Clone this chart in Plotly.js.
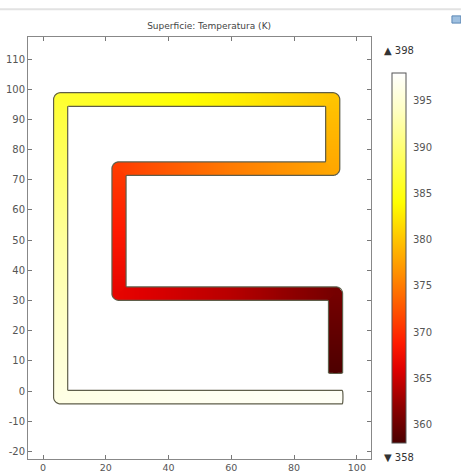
<!DOCTYPE html>
<html>
<head>
<meta charset="utf-8">
<script src="https://cdn.plot.ly/plotly-3.0.1.min.js"></script>
<style>html,body{margin:0;padding:0;background:#fff;}#chart{width:461px;height:475px;}</style>
</head>
<body>
<div id="chart"></div>
<script>
// Channel centerline (x, y in axis units) and temperature (K) read at each vertex
const pathX = [95.3, 50, 5.6, 5.6, 5.6, 30, 60, 92.3, 92.3, 60, 24.2, 24.2, 60, 93.2, 93.2];
const pathY = [-2.0, -2.0, -2.0, 50, 96.6, 96.6, 96.6, 96.6, 73.7, 73.7, 73.7, 32.3, 32.3, 32.3, 6.0];
const pathT = [397.4, 397.0, 396.2, 392.0, 386.5, 385.0, 383.0, 380.0, 378.0, 375.0, 371.0, 366.5, 364.0, 360.5, 358.2];
const channelHalfWidth = 2.25;

const zMin = 358, zMax = 398;
const cbTickVals = [360, 365, 370, 375, 380, 385, 390, 395];
const xTickVals = [0, 20, 40, 60, 80, 100];
const yTickVals = [-20, -10, 0, 10, 20, 30, 40, 50, 60, 70, 80, 90, 100, 110];
const yTickText = ["-20", "-10", "0", "10", "20", "30", "40", "50", "60", "70", "80", "90", "100", "110"];
const titleText = "Superficie: Temperatura (K)";

const colorscale = [
  [0.0, "#4a0000"], [0.1, "#8f0000"], [0.2, "#e00000"], [0.27, "#ff1a00"],
  [0.35, "#ff4d00"], [0.45, "#ff8a00"], [0.55, "#ffc400"], [0.65, "#ffff00"],
  [0.78, "#ffff66"], [0.9, "#ffffc4"], [1.0, "#ffffff"]
];

function sample(px, py) {
  let best = Infinity, bestT = null;
  const n = pathX.length;
  for (let i = 0; i < n - 1; i++) {
    const ax = pathX[i], ay = pathY[i], bx = pathX[i + 1], by = pathY[i + 1];
    const dx = bx - ax, dy = by - ay, L2 = dx * dx + dy * dy, L = Math.sqrt(L2);
    let t = ((px - ax) * dx + (py - ay) * dy) / L2;
    const perp = Math.abs((px - ax) * dy - (py - ay) * dx) / L;
    let d;
    // flat (butt) ends at the two open ends of the channel
    if (t < 0 && i === 0) d = Math.max(perp, channelHalfWidth - t * L);
    else if (t > 1 && i === n - 2) d = Math.max(perp, channelHalfWidth + (t - 1) * L);
    else {
      const tc = Math.min(1, Math.max(0, t));
      d = Math.hypot(ax + tc * dx - px, ay + tc * dy - py);
    }
    if (d < best) {
      best = d;
      const tc = Math.min(1, Math.max(0, t));
      bestT = pathT[i] + (pathT[i + 1] - pathT[i]) * tc;
    }
  }
  return [best, bestT];
}

const step = 0.3;
const gx = [], gy = [];
for (let x = -1; x <= 100; x += step) gx.push(+x.toFixed(3));
for (let y = -8; y <= 101; y += step) gy.push(+y.toFixed(3));
const zT = [], zD = [];
for (const y of gy) {
  const rowT = [], rowD = [];
  for (const x of gx) {
    const [d, T] = sample(x, y);
    rowD.push(d);
    rowT.push(d < channelHalfWidth ? T : null);
  }
  zT.push(rowT); zD.push(rowD);
}

const fontFam = "DejaVu Sans, Arial, sans-serif";
const traces = [
  {
    type: "heatmap", x: gx, y: gy, z: zT, zmin: zMin, zmax: zMax,
    colorscale: colorscale, zsmooth: false, hoverinfo: "skip",
    colorbar: {
      x: 1.061, xanchor: "left", xpad: 0, y: 0.476, yanchor: "middle", ypad: 0,
      thickness: 14, len: 370, lenmode: "pixels",
      outlinewidth: 1, outlinecolor: "#555",
      tickvals: cbTickVals, ticks: "outside", ticklen: 5, tickcolor: "rgba(0,0,0,0)",
      tickfont: { family: fontFam, size: 10, color: "#555" }
    }
  },
  {
    type: "contour", x: gx, y: gy, z: zD, showscale: false, hoverinfo: "skip",
    autocontour: false,
    contours: { start: channelHalfWidth, end: channelHalfWidth, size: 1, coloring: "none", showlabels: false },
    line: { color: "#5f5e4a", width: 1.2, smoothing: 0.6 }
  }
];

const axisCommon = {
  showgrid: false, zeroline: false, showline: true, linecolor: "#888", linewidth: 1,
  mirror: "ticks", ticks: "inside", ticklen: 4, tickcolor: "#777",
  tickfont: { family: fontFam, size: 10, color: "#555" }
};

const layout = {
  width: 461, height: 475,
  margin: { l: 28, r: 90, t: 37, b: 16 },
  paper_bgcolor: "#fff", plot_bgcolor: "#fff",
  showlegend: false,
  title: {
    text: titleText, x: 0.528, xref: "paper", xanchor: "center",
    y: 1 - 26 / 475, yref: "container", yanchor: "middle",
    font: { family: fontFam, size: 9, color: "#444" }
  },
  xaxis: Object.assign({}, axisCommon, { range: [-4.8, 104.5], tickvals: xTickVals,
    tickfont: { family: fontFam, size: 9.5, color: "#555" } }),
  yaxis: Object.assign({}, axisCommon, { range: [-22.5, 117.3], tickvals: yTickVals, ticktext: yTickText }),
  annotations: [
    { xref: "paper", yref: "paper", x: 1.032, y: 0.967, xanchor: "left", yanchor: "middle",
      text: "▲ " + zMax, showarrow: false, font: { family: fontFam, size: 10, color: "#333" } },
    { xref: "paper", yref: "paper", x: 1.032, y: 0.003, xanchor: "left", yanchor: "middle",
      text: "▼ " + zMin, showarrow: false, font: { family: fontFam, size: 10, color: "#333" } }
  ],
  shapes: [
    { type: "line", xref: "paper", yref: "paper", x0: -0.082, x1: 1.262, y0: 1.066, y1: 1.066,
      line: { color: "#e2e2e2", width: 2 } },
    { type: "rect", xref: "paper", yref: "paper", x0: 1.236, x1: 1.262, y0: 1.033, y1: 1.05,
      line: { color: "#5b87b5", width: 1 }, fillcolor: "#9fc0e0" }
  ]
};

Plotly.newPlot("chart", traces, layout, { displayModeBar: false, staticPlot: true });
</script>
</body>
</html>
